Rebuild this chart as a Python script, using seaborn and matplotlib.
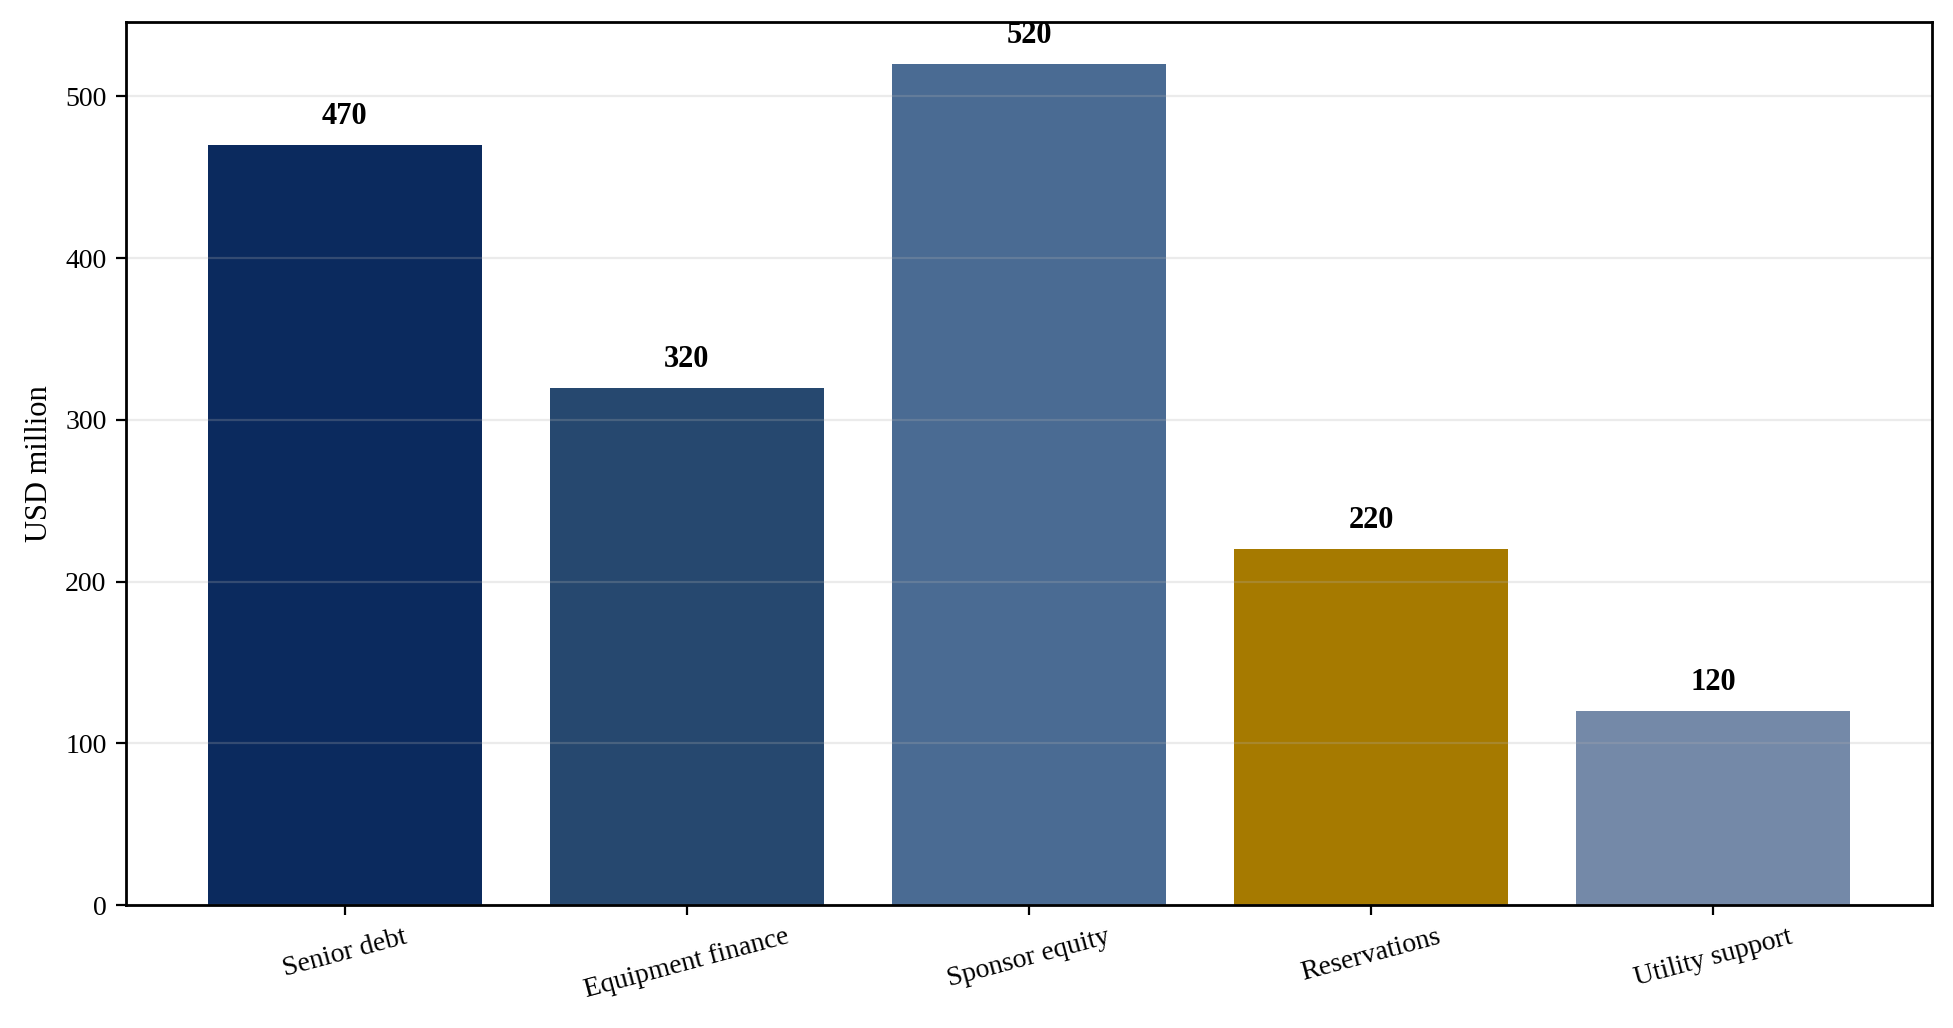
import matplotlib
matplotlib.use("Agg")
import matplotlib.pyplot as plt
import pandas as pd
import seaborn as sns

# ---------------------------------------------------------------------------
# Data
# ---------------------------------------------------------------------------
sources = ["Senior debt", "Equipment finance", "Sponsor equity",
           "Reservations", "Utility support"]
amounts = [470, 320, 520, 220, 120]
bar_colors = ["#0B2A5E", "#26486F", "#4A6B93", "#A67A00", "#7489A8"]
y_ticks = [0, 100, 200, 300, 400, 500]

plt.rcParams["font.family"] = ["Liberation Serif", "DejaVu Serif"]
plt.rcParams["axes.linewidth"] = 1.0


def main():
    df = pd.DataFrame({"source": sources, "amount": amounts})

    fig, ax = plt.subplots(figsize=(9.765, 5.14), dpi=200)
    fig.subplots_adjust(left=0.0645, right=0.9893, bottom=0.1196, top=0.9786)

    sns.barplot(
        data=df, x="source", y="amount", hue="source",
        palette=bar_colors, saturation=1, width=0.8,
        legend=False, ax=ax,
    )

    for patch, val in zip(ax.patches, amounts):
        ax.annotate(
            f"{val}",
            (patch.get_x() + patch.get_width() / 2, patch.get_height()),
            xytext=(0, 5), textcoords="offset points",
            ha="center", va="bottom", fontsize=11, fontweight="bold",
        )

    ax.set_xlim(-0.64, len(sources) - 1 + 0.64)
    ax.set_ylim(0, max(amounts) * 1.05)
    ax.set_yticks(y_ticks)
    ax.grid(axis="y", color="#b0b0b0", alpha=0.25, linewidth=0.8)
    ax.set_axisbelow("line")

    ax.set_xlabel("")
    ax.set_ylabel("USD million", fontsize=11)
    ax.tick_params(axis="y", labelsize=10)
    ax.tick_params(axis="x", labelsize=10)
    plt.setp(ax.get_xticklabels(), rotation=15, ha="center")

    fig.savefig("out.png", dpi=200)
    plt.close(fig)


if __name__ == "__main__":
    main()
